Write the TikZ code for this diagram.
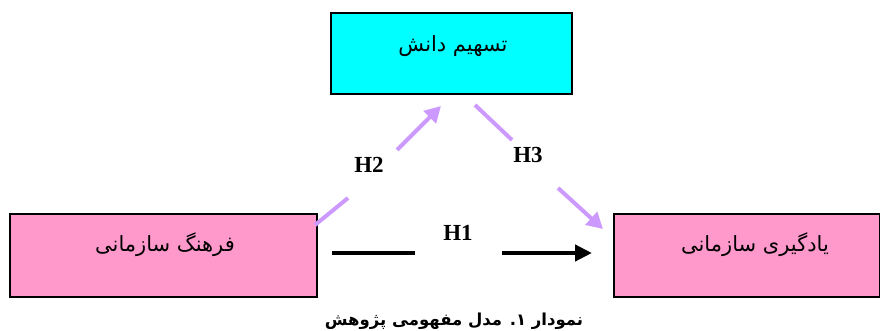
\documentclass[tikz,border=0pt]{standalone}
\usepackage{fontspec}
\setmainfont{Liberation Serif}
\newfontfamily\arabicfont[Script=Arabic]{DejaVu Sans}
\TeXXeTstate=1
\usetikzlibrary{arrows.meta}
\definecolor{cyanbox}{HTML}{00FFFF}
\definecolor{pinkbox}{HTML}{FF99CC}
\definecolor{lav}{HTML}{CC99FF}
\tikzset{
  vbox/.style={draw=black, line width=1.5pt, inner sep=0pt},
  boxtext/.style={inner sep=0pt, font=\arabicfont\fontsize{21}{24}\selectfont},
  purplearrow/.style={draw=lav, line width=4pt, -{Triangle[length=16pt,width=17pt]}},
  purpleline/.style={draw=lav, line width=4pt},
  blackarrow/.style={draw=black, line width=4.2pt, -{Triangle[length=17pt,width=16pt]}},
  blackline/.style={draw=black, line width=4.2pt},
  hlabel/.style={font=\bfseries\fontsize{23}{26}\selectfont, inner sep=0pt},
}
\begin{document}
\begin{tikzpicture}[x=1pt,y=-1pt]
\useasboundingbox (0,0) rectangle (880,331);
% boxes
\node[vbox, fill=cyanbox, minimum width=241pt, minimum height=81pt] (k) at (451.5,53.5) {};
\node[vbox, fill=pinkbox, minimum width=307pt, minimum height=83pt] (c) at (163.5,255.5) {};
\node[vbox, fill=pinkbox, minimum width=266pt, minimum height=83pt] (l) at (747,255.5) {};
\node[boxtext] (kt) at (453,46) {\beginR تسهیم دانش\endR};
\node[boxtext] (ct) at (165,245) {\beginR فرهنگ سازمانی\endR};
\node[boxtext] (lt) at (755,245) {\beginR یادگیری سازمانی\endR};
% coordinates for connectors
\coordinate (h2s) at (315,225);
\coordinate (h2a) at (348,198);
\coordinate (h2b) at (397,150);
\coordinate (h2e) at (441,106);
\coordinate (h3s) at (475,105);
\coordinate (h3a) at (512,140);
\coordinate (h3b) at (558,188);
\coordinate (h3e) at (603,229);
\coordinate (h1s) at (332,253);
\coordinate (h1a) at (415,253);
\coordinate (h1b) at (502,253);
\coordinate (h1e) at (592,253);
% connectors
\draw[purpleline] (h2s) -- (h2a);
\draw[purplearrow] (h2b) -- (h2e);
\draw[purpleline] (h3s) -- (h3a);
\draw[purplearrow] (h3b) -- (h3e);
\draw[blackline] (h1s) -- (h1a);
\draw[blackarrow] (h1b) -- (h1e);
% labels
\node[hlabel] (t2) at (369,165) {H2};
\node[hlabel] (t3) at (528,155) {H3};
\node[hlabel] (t1) at (458,233) {H1};
\node[font=\arabicfont\bfseries\fontsize{16.5}{19}\selectfont, inner sep=0pt] (cap) at (454,321) {\beginR نمودار ۱. مدل مفهومی پژوهش\endR};
\end{tikzpicture}
\end{document}
